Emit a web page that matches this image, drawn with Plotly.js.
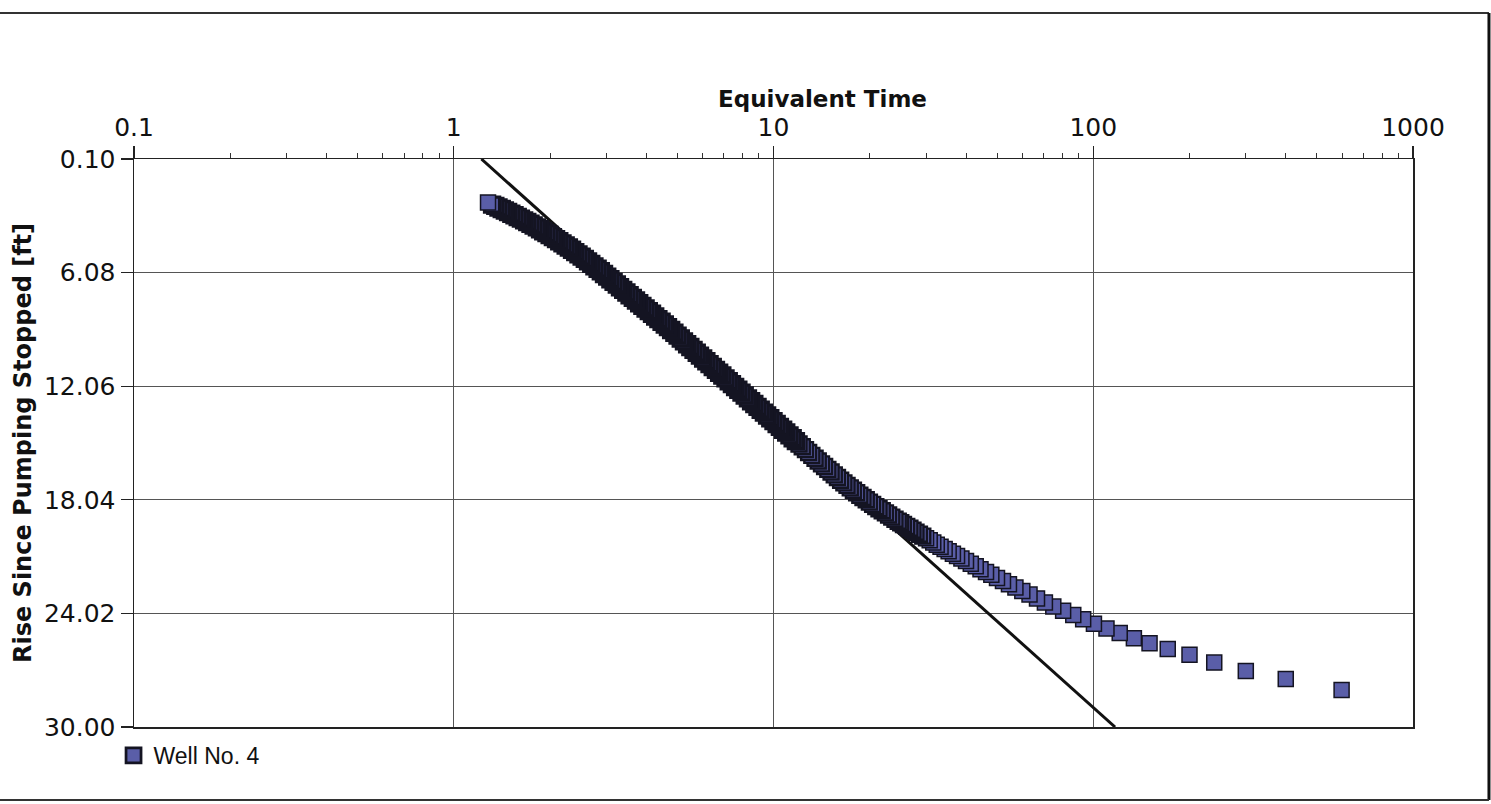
<!DOCTYPE html>
<html>
<head>
<meta charset="utf-8">
<script src="https://cdn.plot.ly/plotly-3.0.1.min.js"></script>
<style>
html,body{margin:0;padding:0;background:#fff;}
#chart{width:1491px;height:804px;}
</style>
</head>
<body>
<div id="chart"></div>
<script>
// ---- data ----
const seriesName = 'Well No. 4';

// Equivalent time (x), ordered as plotted (right tail first, early times last)
const equivTime = [
  598, 400, 300, 239, 200, 171, 150, 134, 121, 110,
  100.5, 93, 86.6, 80.5, 75,
  70.6, 66.7, 63.2, 60, 57.1, 54.5, 52.2, 50, 48, 46.2,
  44.4, 42.9, 41.4, 40, 38.7, 37.5, 36.4, 35.3, 34.3, 33.3,
  32.4, 31.6, 30.8, 30, 29.3, 28.6, 27.9, 27.3, 26.7, 26.1,
  25.5, 25,
  24.55, 23.99, 23.44, 22.91, 22.39, 21.88, 21.38, 20.89, 20.42, 19.95,
  19.50, 19.05, 18.62, 18.20, 17.78, 17.38, 16.98, 16.60, 16.22, 15.85,
  15.49, 15.14, 14.79, 14.45, 14.13, 13.80, 13.49, 13.18, 12.88, 12.59,
  12.30, 12.02, 11.75, 11.48, 11.22, 10.96, 10.72, 10.47, 10.23, 10.0,
  9.772, 9.550, 9.333, 9.120, 8.913, 8.710, 8.511, 8.318, 8.128, 7.943,
  7.762, 7.586, 7.413, 7.244, 7.079, 6.918, 6.761, 6.607, 6.457, 6.310,
  6.166, 6.026, 5.888, 5.754, 5.623, 5.495, 5.370, 5.248, 5.129, 5.012,
  4.898, 4.786, 4.677, 4.571, 4.467, 4.365, 4.266, 4.169, 4.074, 3.981,
  3.890, 3.802, 3.715, 3.631, 3.548, 3.467, 3.388, 3.311, 3.236, 3.162,
  3.090, 3.020, 2.951, 2.884, 2.818, 2.754, 2.692, 2.630, 2.570, 2.512,
  2.455, 2.399, 2.344, 2.291, 2.239, 2.188, 2.138, 2.089, 2.042, 1.995,
  1.950, 1.905, 1.862, 1.820, 1.778, 1.738, 1.698, 1.660, 1.622, 1.585,
  1.549, 1.514, 1.479, 1.445, 1.413, 1.380, 1.349, 1.318, 1.28
];

// Rise since pumping stopped [ft], same order
const riseFt = [
  28.05, 27.47, 27.05, 26.61, 26.20, 25.89, 25.59, 25.33, 25.05, 24.81,
  24.56, 24.33, 24.10, 23.88, 23.66,
  23.44, 23.23, 23.03, 22.84, 22.66, 22.49, 22.31, 22.15, 21.99, 21.84,
  21.69, 21.54, 21.40, 21.26, 21.13, 21.00, 20.88, 20.75, 20.63, 20.51,
  20.40, 20.29, 20.17, 20.06, 19.95, 19.85, 19.75, 19.64, 19.54, 19.44,
  19.34, 19.25,
  19.17, 19.06, 18.95, 18.84, 18.73, 18.62, 18.51, 18.40, 18.28, 18.16,
  18.04, 17.92, 17.80, 17.67, 17.54, 17.41, 17.28, 17.15, 17.01, 16.87,
  16.73, 16.58, 16.44, 16.29, 16.15, 16.00, 15.85, 15.70, 15.55, 15.40,
  15.25, 15.10, 14.95, 14.80, 14.65, 14.50, 14.35, 14.20, 14.05, 13.90,
  13.75, 13.60, 13.45, 13.30, 13.15, 13.00, 12.85, 12.70, 12.55, 12.40,
  12.25, 12.10, 11.95, 11.80, 11.65, 11.50, 11.35, 11.20, 11.05, 10.90,
  10.75, 10.60, 10.45, 10.30, 10.15, 10.00, 9.85, 9.70, 9.55, 9.40,
  9.25, 9.10, 8.95, 8.81, 8.67, 8.53, 8.39, 8.25, 8.11, 7.97,
  7.83, 7.69, 7.55, 7.41, 7.27, 7.13, 6.99, 6.85, 6.71, 6.57,
  6.43, 6.29, 6.15, 6.01, 5.88, 5.75, 5.62, 5.49, 5.36, 5.24,
  5.12, 5.00, 4.88, 4.76, 4.65, 4.54, 4.43, 4.32, 4.21, 4.10,
  4.00, 3.90, 3.80, 3.70, 3.60, 3.51, 3.42, 3.33, 3.24, 3.15,
  3.06, 2.98, 2.89, 2.81, 2.73, 2.65, 2.57, 2.50, 2.39
];

// Straight-line fit drawn on the chart (end points)
const fitTime = [1.22, 117];
const fitRise = [0.10, 30.00];

// Axis ticks
const xTickVals = [0.1, 1, 10, 100, 1000];
const xTickText = ['0.1', '1', '10', '100', '1000'];
const xMinorVals = [0.2,0.3,0.4,0.5,0.6,0.7,0.8,0.9, 2,3,4,5,6,7,8,9, 20,30,40,50,60,70,80,90, 200,300,400,500,600,700,800,900];
const yTickVals = [0.10, 6.08, 12.06, 18.04, 24.02, 30.00];
const yTickText = ['0.10', '6.08', '12.06', '18.04', '24.02', '30.00'];

const xTitle = 'Equivalent Time';
const yTitle = 'Rise Since Pumping Stopped [ft]';

// ---- chart ----
const FONT = 'DejaVu Sans, Verdana, sans-serif';
const tickFont = {family: FONT, size: 25, color: '#111'};

// marker outlines look heavier where the points pile up (the last-drawn point stays crisp)
const lastIdx = equivTime.length - 1;
const outlineWidths = equivTime.map(function (t, i) {
  if (i === lastIdx) return 1.5;
  return t < 12 ? 3.4 : (t < 30 ? 2.4 : 1.5);
});

const traces = [
  {
    x: fitTime, y: fitRise, type: 'scatter', mode: 'lines',
    line: {color: '#111111', width: 3},
    showlegend: false, hoverinfo: 'skip'
  },
  {
    x: equivTime, y: riseFt, type: 'scatter', mode: 'markers',
    name: seriesName,
    marker: {symbol: 'square', size: 15, color: '#5a5ea8',
             line: {color: '#141422', width: outlineWidths}}
  }
];

const layout = {
  width: 1491, height: 804,
  paper_bgcolor: '#ffffff', plot_bgcolor: '#ffffff',
  margin: {l: 134, r: 78, t: 159, b: 77},
  showlegend: true,
  legend: {orientation: 'h', x: -0.016, y: -0.05, xanchor: 'left', yanchor: 'middle',
           font: {family: 'Liberation Sans, Arial, sans-serif', size: 23, color: '#111'},
           bgcolor: 'rgba(0,0,0,0)'},
  xaxis: {
    type: 'log', side: 'top', range: [-1, 3],
    tickmode: 'array', tickvals: xTickVals, ticktext: xTickText,
    ticks: 'outside', ticklen: 12, tickwidth: 1.2, tickcolor: '#222',
    showgrid: true, gridcolor: '#555555', gridwidth: 1.2,
    showline: true, linecolor: '#222', linewidth: 1.5, mirror: true,
    zeroline: false, tickfont: tickFont,
    minor: {tickmode: 'array', tickvals: xMinorVals, ticks: 'outside', ticklen: 5,
            tickwidth: 1, tickcolor: '#333', showgrid: false}
  },
  yaxis: {
    range: [30, 0.1],
    tickmode: 'array', tickvals: yTickVals, ticktext: yTickText,
    ticks: 'outside', ticklen: 12, tickwidth: 1.2, tickcolor: '#222',
    showgrid: true, gridcolor: '#555555', gridwidth: 1.2,
    showline: true, linecolor: '#222', linewidth: 1.5, mirror: true,
    zeroline: false, tickfont: tickFont,
    title: {text: '<b>' + yTitle + '</b>', standoff: 5,
            font: {family: FONT, size: 24, color: '#111'}}
  },
  annotations: [
    {text: '<b>' + xTitle + '</b>', xref: 'paper', yref: 'paper',
     x: 0.538, y: 1.105, xanchor: 'center', yanchor: 'middle', showarrow: false,
     font: {family: FONT, size: 23, color: '#111'}}
  ],
  shapes: [
    {type: 'line', xref: 'paper', yref: 'paper', x0: -0.11, x1: 1.0594, y0: 1.257, y1: 1.257,
     line: {color: '#333', width: 2}},
    {type: 'line', xref: 'paper', yref: 'paper', x0: 1.0594, x1: 1.0594, y0: 1.257, y1: -0.1285,
     line: {color: '#111', width: 3}},
    {type: 'line', xref: 'paper', yref: 'paper', x0: -0.11, x1: 1.0594, y0: -0.1285, y1: -0.1285,
     line: {color: '#333', width: 2}}
  ]
};

Plotly.newPlot('chart', traces, layout, {displayModeBar: false, staticPlot: true});
</script>
</body>
</html>
